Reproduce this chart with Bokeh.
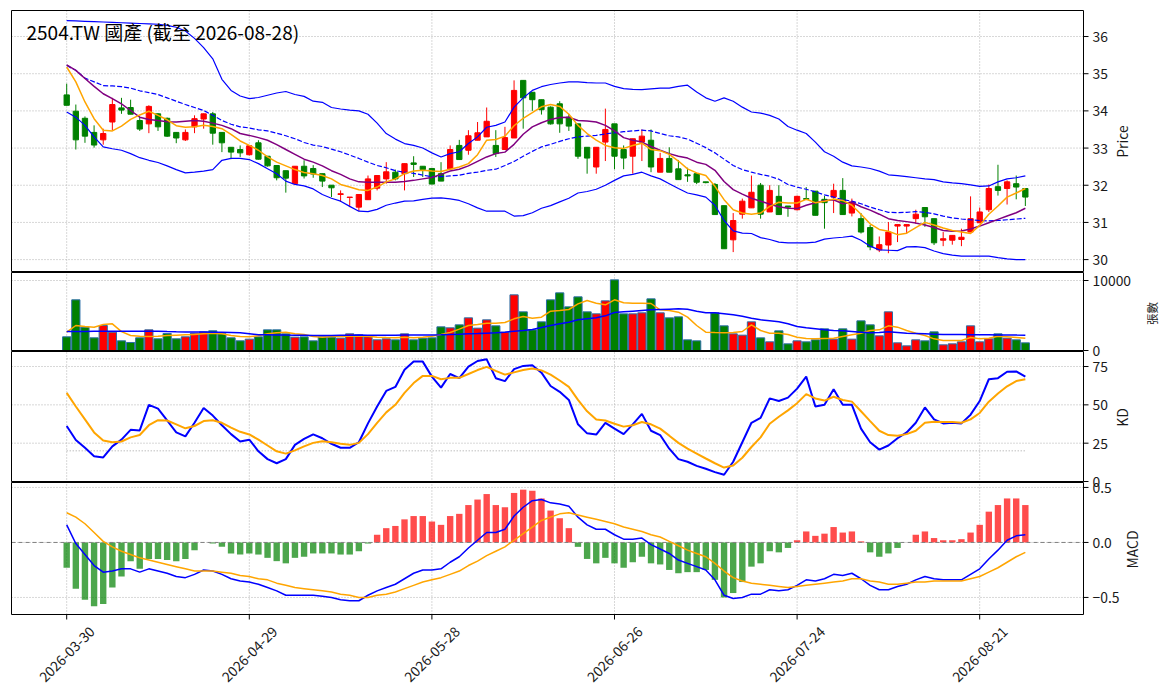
import math
import pandas as pd
from bokeh.plotting import figure
from bokeh.models import Range1d
from bokeh.core.properties import value
from bokeh.embed import file_html
from bokeh.resources import INLINE

FONT = "Noto Sans CJK TC"

# ---------------- data ----------------
holidays = ["2026-04-03", "2026-04-06", "2026-05-01", "2026-06-19"]
dates = [d.strftime("%Y-%m-%d") for d in pd.bdate_range("2026-03-30", "2026-08-28")
         if d.strftime("%Y-%m-%d") not in holidays]
tick_idx = [0, 20, 40, 60, 80, 100]

open_ = [34.43, 33.99, 33.80, 33.42, 33.22, 33.70, 34.08, 34.09, 33.74, 33.65,
         33.92, 33.80, 33.42, 33.22, 33.57, 33.78, 33.92, 33.42, 33.02, 32.96,
         32.82, 33.14, 32.78, 32.53, 32.39, 32.04, 32.51, 32.45, 32.31, 32.00,
         31.75, 31.67, 31.41, 31.61, 31.92, 32.17, 32.35, 32.31, 32.60, 32.51,
         32.45, 32.31, 32.44, 33.07, 32.94, 33.21, 33.30, 33.07, 32.96, 33.27,
         34.82, 34.50, 34.30, 34.10, 34.19, 33.83, 33.65, 33.02, 32.49, 33.16,
         33.65, 32.96, 32.78, 33.16, 33.21, 32.35, 32.72, 32.44, 32.28, 32.31,
         32.09, 32.02, 31.45, 30.53, 31.22, 31.39, 32.00, 31.28, 31.70, 31.44,
         31.34, 31.64, 31.84, 31.62, 31.68, 31.86, 31.25, 31.10, 30.86, 30.26,
         30.39, 30.90, 30.90, 31.10, 31.40, 31.10, 30.52, 30.52, 30.54, 30.74,
         30.99, 31.34, 31.96, 31.91, 32.04, 31.91]
close = [34.15, 33.22, 33.32, 33.08, 33.39, 34.17, 34.02, 33.91, 33.51, 34.12,
         33.57, 33.32, 33.27, 33.42, 33.79, 33.92, 33.40, 33.14, 32.89, 32.87,
         33.06, 32.70, 32.52, 32.20, 32.19, 32.51, 32.25, 32.30, 32.11, 31.93,
         31.77, 31.68, 31.75, 32.17, 32.26, 32.36, 32.17, 32.58, 32.56, 32.42,
         32.03, 32.11, 32.96, 32.69, 33.33, 33.41, 33.72, 32.85, 33.28, 34.55,
         34.35, 34.30, 34.03, 33.65, 33.65, 33.59, 32.78, 32.73, 33.02, 33.50,
         32.78, 32.73, 33.25, 33.32, 32.49, 32.72, 32.35, 32.15, 32.25, 32.08,
         32.07, 31.21, 30.29, 31.05, 31.57, 31.81, 31.22, 31.86, 31.21, 31.41,
         31.70, 31.62, 31.19, 31.53, 31.86, 31.21, 31.55, 30.74, 30.34, 30.40,
         30.74, 30.94, 30.94, 31.22, 31.15, 30.45, 30.56, 30.65, 30.60, 31.10,
         31.28, 31.91, 31.86, 32.09, 31.95, 31.68]
high = [34.73, 34.17, 33.85, 33.61, 33.52, 34.35, 34.35, 34.30, 33.83, 34.15,
        33.94, 33.82, 33.43, 33.50, 33.88, 33.93, 33.97, 33.43, 33.02, 33.07,
        33.07, 33.21, 32.78, 32.53, 32.39, 32.51, 32.67, 32.54, 32.31, 32.00,
        31.86, 31.68, 31.75, 32.26, 32.26, 32.62, 32.42, 32.58, 32.78, 32.51,
        32.45, 32.62, 33.07, 33.22, 33.48, 33.70, 34.09, 33.48, 33.57, 34.82,
        34.82, 34.50, 34.30, 34.12, 34.26, 33.92, 33.65, 33.02, 33.02, 34.06,
        33.65, 33.07, 33.25, 33.50, 33.50, 32.87, 33.02, 32.68, 32.47, 32.31,
        32.09, 32.06, 31.45, 31.25, 31.64, 32.26, 32.06, 32.00, 32.00, 31.44,
        31.72, 31.95, 31.84, 31.71, 32.04, 32.19, 31.64, 31.25, 30.93, 30.62,
        31.01, 30.94, 30.94, 31.34, 31.40, 31.10, 30.74, 30.65, 30.83, 31.70,
        31.40, 32.02, 32.55, 32.13, 32.26, 31.91]
low = [34.15, 32.96, 33.14, 33.01, 33.09, 33.48, 33.92, 33.91, 33.46, 33.40,
       33.46, 33.30, 33.13, 33.19, 33.40, 33.52, 33.09, 32.89, 32.70, 32.76,
       32.80, 32.69, 32.50, 32.13, 31.80, 32.04, 32.18, 32.20, 31.95, 31.68,
       31.55, 31.41, 31.30, 31.61, 31.86, 32.04, 32.13, 31.86, 32.22, 32.22,
       32.03, 32.11, 32.44, 32.69, 32.82, 33.21, 33.30, 32.76, 32.96, 33.27,
       33.52, 34.00, 33.90, 33.63, 33.41, 33.46, 32.71, 32.31, 32.31, 32.65,
       32.43, 32.43, 32.31, 32.65, 32.35, 32.35, 32.35, 32.15, 32.09, 32.03,
       32.05, 31.21, 30.29, 30.20, 31.10, 31.39, 31.10, 31.28, 31.21, 31.15,
       31.32, 31.60, 31.19, 30.83, 31.25, 31.21, 31.16, 30.70, 30.25, 30.20,
       30.17, 30.47, 30.70, 30.96, 30.88, 30.39, 30.36, 30.40, 30.36, 30.74,
       30.99, 31.28, 31.72, 31.48, 31.62, 31.44]
ma5 = [35.18, 34.78, 34.24, 33.79, 33.48, 33.46, 33.59, 33.77, 33.89, 33.99,
       33.88, 33.76, 33.60, 33.56, 33.57, 33.61, 33.58, 33.52, 33.37, 33.19,
       33.07, 32.94, 32.76, 32.62, 32.52, 32.42, 32.34, 32.31, 32.26, 32.17,
       32.02, 31.95, 31.88, 31.86, 31.95, 32.09, 32.17, 32.31, 32.38, 32.40,
       32.38, 32.37, 32.43, 32.49, 32.58, 32.82, 33.21, 33.23, 33.32, 33.60,
       33.80, 33.95, 34.11, 34.17, 34.12, 33.91, 33.61, 33.39, 33.21, 33.07,
       33.01, 32.99, 33.07, 33.13, 32.96, 32.93, 32.83, 32.65, 32.44, 32.33,
       32.26, 31.97, 31.61, 31.34, 31.25, 31.22, 31.25, 31.43, 31.54, 31.52,
       31.52, 31.62, 31.53, 31.57, 31.63, 31.59, 31.46, 31.22, 30.96, 30.81,
       30.76, 30.67, 30.71, 30.86, 31.00, 30.93, 30.85, 30.78, 30.74, 30.70,
       30.92, 31.22, 31.44, 31.68, 31.79, 31.91]
ma10 = [35.24, 35.09, 34.87, 34.66, 34.46, 34.33, 34.19, 34.01, 33.83, 33.77,
        33.74, 33.71, 33.70, 33.72, 33.74, 33.72, 33.67, 33.61, 33.52, 33.39,
        33.34, 33.28, 33.21, 33.09, 32.96, 32.83, 32.70, 32.62, 32.52, 32.39,
        32.29, 32.17, 32.09, 32.08, 32.08, 32.08, 32.08, 32.10, 32.13, 32.17,
        32.21, 32.29, 32.38, 32.43, 32.52, 32.64, 32.76, 32.85, 32.89, 33.10,
        33.37, 33.57, 33.68, 33.77, 33.82, 33.83, 33.74, 33.73, 33.70, 33.61,
        33.46, 33.28, 33.21, 33.16, 33.04, 32.94, 32.85, 32.78, 32.73, 32.62,
        32.56, 32.40, 32.10, 31.88, 31.76, 31.65, 31.57, 31.49, 31.42, 31.38,
        31.37, 31.46, 31.53, 31.58, 31.61, 31.50, 31.54, 31.42, 31.33, 31.22,
        31.10, 31.05, 31.02, 30.98, 30.93, 30.86, 30.78, 30.76, 30.77, 30.82,
        30.90, 30.99, 31.08, 31.17, 31.26, 31.38]
bb_upper = [36.43, 36.42, 36.41, 36.40, 36.39, 36.38, 36.37, 36.36, 36.35, 36.34,
            36.33, 36.30, 36.25, 36.15, 35.95, 35.70, 35.40, 34.85, 34.55, 34.40,
            34.33, 34.36, 34.42, 34.48, 34.52, 34.44, 34.39, 34.26, 34.23, 34.09,
            34.05, 34.02, 34.00, 33.91, 33.67, 33.39, 33.24, 33.12, 33.07, 33.00,
            32.87, 32.76, 32.85, 32.90, 33.12, 33.30, 33.56, 33.61, 33.70, 34.10,
            34.35, 34.55, 34.65, 34.71, 34.75, 34.78, 34.78, 34.76, 34.75, 34.75,
            34.66, 34.60, 34.58, 34.57, 34.59, 34.61, 34.61, 34.66, 34.69, 34.51,
            34.35, 34.26, 34.35, 34.26, 34.10, 33.97, 33.94, 33.88, 33.78, 33.58,
            33.48, 33.39, 33.16, 32.90, 32.78, 32.62, 32.52, 32.49, 32.45, 32.38,
            32.28, 32.26, 32.23, 32.20, 32.17, 32.15, 32.09, 32.06, 32.04, 32.01,
            31.97, 31.98, 32.09, 32.17, 32.20, 32.25]
bb_mid = [35.22, 35.09, 34.88, 34.78, 34.68, 34.67, 34.65, 34.61, 34.54, 34.49,
          34.44, 34.35, 34.26, 34.17, 34.09, 34.01, 33.88, 33.74, 33.64, 33.57,
          33.54, 33.49, 33.46, 33.40, 33.33, 33.25, 33.15, 33.08, 33.04, 32.97,
          32.90, 32.81, 32.72, 32.62, 32.53, 32.47, 32.39, 32.35, 32.32, 32.27,
          32.23, 32.23, 32.25, 32.27, 32.32, 32.35, 32.40, 32.43, 32.53, 32.64,
          32.78, 32.91, 33.03, 33.10, 33.18, 33.25, 33.30, 33.32, 33.34, 33.38,
          33.41, 33.44, 33.46, 33.48, 33.46, 33.39, 33.33, 33.30, 33.24, 33.13,
          33.01, 32.87, 32.70, 32.53, 32.42, 32.35, 32.29, 32.24, 32.16, 32.02,
          31.95, 31.89, 31.82, 31.74, 31.68, 31.61, 31.57, 31.50, 31.41, 31.34,
          31.27, 31.26, 31.27, 31.29, 31.27, 31.23, 31.17, 31.12, 31.09, 31.07,
          31.05, 31.04, 31.05, 31.07, 31.09, 31.11]
bb_lower = [33.97, 33.83, 33.61, 33.30, 33.03, 32.98, 32.94, 32.85, 32.74, 32.67,
            32.61, 32.52, 32.42, 32.33, 32.35, 32.38, 32.42, 32.67, 32.72, 32.72,
            32.69, 32.58, 32.44, 32.31, 32.11, 32.02, 31.98, 31.90, 31.75, 31.65,
            31.57, 31.43, 31.30, 31.29, 31.35, 31.46, 31.52, 31.57, 31.58, 31.62,
            31.65, 31.66, 31.63, 31.59, 31.50, 31.39, 31.30, 31.30, 31.30, 31.17,
            31.18, 31.26, 31.38, 31.45, 31.55, 31.65, 31.79, 31.83, 31.89, 32.00,
            32.13, 32.25, 32.29, 32.35, 32.25, 32.17, 32.04, 31.91, 31.79, 31.74,
            31.68, 31.46, 31.05, 30.77, 30.71, 30.70, 30.59, 30.54, 30.47, 30.45,
            30.45, 30.45, 30.47, 30.55, 30.58, 30.60, 30.63, 30.52, 30.36, 30.26,
            30.25, 30.24, 30.34, 30.35, 30.32, 30.23, 30.16, 30.12, 30.09, 30.09,
            30.09, 30.09, 30.05, 30.02, 30.00, 30.00]
volume = [1952, 7238, 3333, 1810, 3571, 2619, 1381, 1143, 1810, 2952,
          1667, 2429, 1667, 1952, 2476, 2667, 2810, 2381, 1810, 1381,
          1619, 1952, 2952, 2952, 2381, 1905, 1952, 1381, 1952, 1905,
          1762, 2381, 2238, 1952, 1524, 1667, 1524, 2381, 1524, 1762,
          1810, 3381, 3238, 3667, 4667, 3190, 4381, 3524, 2619, 7952,
          5524, 2952, 4095, 7238, 8238, 6238, 7667, 5524, 5238, 7095,
          10095, 5238, 5238, 5381, 7381, 5381, 4667, 4810, 1524, 1381,
          0, 5381, 3524, 2381, 2190, 4095, 1810, 1238, 2810, 952,
          1381, 1238, 1524, 3095, 1619, 3095, 1619, 4238, 3667, 2095,
          5524, 1095, 667, 1524, 1381, 2667, 810, 952, 1238, 3524,
          1238, 1667, 2381, 1762, 1524, 1095]
vol_ma5 = [2619, 3571, 3429, 3333, 3714, 3810, 2700, 2150, 2048, 2000,
           2048, 2143, 2190, 2238, 2286, 2381, 2476, 2381, 2143, 2000,
           1952, 2095, 2381, 2524, 2619, 2381, 2286, 2000, 1905, 2000,
           2000, 2048, 2048, 2048, 1905, 1857, 1810, 1905, 1810, 1905,
           2048, 2286, 2571, 3048, 3571, 3714, 3905, 3905, 4000, 4524,
           4857, 4619, 4762, 5619, 5714, 5857, 6667, 7143, 6762, 6524,
           7238, 6810, 6762, 6762, 6714, 5810, 5714, 5476, 4762, 3571,
           2619, 2571, 2524, 2571, 2714, 3667, 2857, 2476, 2476, 2286,
           1905, 1714, 1667, 1714, 1762, 2000, 2238, 2476, 2857, 2952,
           3524, 3333, 2857, 2476, 2143, 1667, 1429, 1429, 1429, 1857,
           1667, 1762, 2048, 1952, 1857, 1762]
vol_ma20 = [2714, 2714, 2730, 2740, 2750, 2760, 2760, 2760, 2760, 2760,
            2740, 2700, 2670, 2650, 2640, 2630, 2620, 2600, 2570, 2520,
            2400, 2250, 2240, 2220, 2200, 2190, 2180, 2160, 2150, 2150,
            2170, 2190, 2200, 2190, 2190, 2190, 2190, 2200, 2200, 2210,
            2230, 2250, 2290, 2330, 2380, 2420, 2470, 2520, 2620, 2760,
            2860, 3000, 3290, 3571, 3810, 4048, 4381, 4524, 4667, 4952,
            5429, 5524, 5619, 5714, 5810, 5857, 5905, 5952, 5905, 5619,
            5381, 5381, 5238, 5095, 4905, 4619, 4381, 4238, 4095, 3810,
            3429, 3238, 3095, 2952, 2857, 2810, 2714, 2619, 2524, 2571,
            2667, 2571, 2476, 2429, 2381, 2333, 2286, 2280, 2270, 2260,
            2250, 2240, 2230, 2220, 2200, 2190]
k_line = [36.2, 27.1, 22.0, 16.5, 15.7, 22.9, 27.3, 33.7, 33.3, 50.0,
          47.5, 39.8, 32.0, 29.4, 38.3, 47.9, 43.0, 36.7, 30.9, 26.1,
          27.3, 19.7, 14.6, 11.9, 14.6, 23.9, 27.8, 30.7, 28.2, 24.6,
          22.0, 22.0, 25.6, 37.9, 48.9, 59.1, 61.7, 72.9, 78.2, 78.2,
          68.4, 61.2, 70.1, 67.4, 75.0, 78.6, 79.7, 67.4, 65.5, 73.3,
          75.4, 75.8, 71.0, 62.3, 58.5, 53.2, 37.3, 31.4, 30.6, 38.3,
          34.5, 30.9, 37.3, 44.1, 33.1, 30.3, 21.4, 14.6, 12.9, 10.2,
          8.3, 6.1, 4.4, 12.9, 25.6, 38.3, 41.5, 54.2, 52.5, 54.7,
          60.6, 68.4, 48.9, 50.0, 60.2, 50.0, 50.0, 34.5, 25.6, 20.8,
          23.5, 28.2, 32.0, 38.3, 48.3, 40.5, 37.9, 38.3, 37.9, 43.6,
          52.5, 66.7, 67.4, 71.6, 71.8, 68.4]
d_line = [57.8, 48.9, 40.5, 32.0, 26.7, 25.6, 26.1, 28.8, 30.3, 36.7,
          40.0, 39.8, 37.3, 34.7, 36.2, 39.4, 40.0, 38.3, 35.2, 32.4,
          30.7, 27.3, 23.5, 19.7, 18.2, 20.3, 22.9, 25.2, 26.3, 25.6,
          24.6, 23.9, 25.2, 30.9, 38.3, 45.1, 50.0, 57.8, 64.2, 68.9,
          68.9, 66.7, 67.6, 67.6, 70.1, 72.7, 74.8, 72.2, 69.7, 71.2,
          72.7, 73.7, 72.5, 69.7, 65.9, 61.7, 53.2, 45.8, 40.5, 39.8,
          37.7, 35.8, 36.7, 38.8, 37.3, 34.5, 29.9, 25.2, 21.4, 18.2,
          15.0, 11.9, 9.1, 10.4, 15.5, 22.5, 28.8, 37.7, 42.2, 46.4,
          51.1, 57.0, 54.2, 52.8, 55.3, 53.2, 52.1, 45.8, 39.4, 33.1,
          30.3, 29.9, 30.9, 33.1, 38.3, 39.0, 38.8, 38.8, 38.3, 40.5,
          44.7, 52.1, 57.4, 62.1, 65.5, 66.7]
kd_levels = [20, 80]
macd_dif = [0.16, -0.01, -0.11, -0.21, -0.27, -0.26, -0.24, -0.24, -0.27, -0.24,
            -0.26, -0.28, -0.31, -0.32, -0.29, -0.25, -0.26, -0.29, -0.33, -0.35,
            -0.36, -0.38, -0.41, -0.44, -0.48, -0.48, -0.48, -0.48, -0.49, -0.50,
            -0.52, -0.53, -0.53, -0.48, -0.44, -0.41, -0.38, -0.33, -0.28, -0.25,
            -0.25, -0.24, -0.18, -0.13, -0.05, 0.02, 0.09, 0.09, 0.12, 0.24,
            0.32, 0.38, 0.39, 0.36, 0.35, 0.33, 0.23, 0.16, 0.12, 0.12,
            0.07, 0.03, 0.03, 0.04, -0.02, -0.06, -0.10, -0.16, -0.19, -0.22,
            -0.25, -0.34, -0.48, -0.51, -0.50, -0.47, -0.47, -0.43, -0.44, -0.43,
            -0.39, -0.34, -0.35, -0.33, -0.29, -0.30, -0.28, -0.33, -0.39, -0.43,
            -0.43, -0.40, -0.38, -0.34, -0.31, -0.33, -0.34, -0.34, -0.34, -0.29,
            -0.24, -0.15, -0.07, 0.02, 0.06, 0.07]
macd_signal = [0.27, 0.23, 0.17, 0.09, 0.01, -0.04, -0.08, -0.11, -0.14, -0.16,
               -0.18, -0.20, -0.22, -0.24, -0.26, -0.26, -0.26, -0.27, -0.28, -0.30,
               -0.31, -0.33, -0.34, -0.37, -0.39, -0.41, -0.42, -0.43, -0.44, -0.45,
               -0.47, -0.48, -0.50, -0.50, -0.48, -0.47, -0.45, -0.42, -0.39, -0.36,
               -0.34, -0.32, -0.29, -0.26, -0.21, -0.17, -0.12, -0.08, -0.04, 0.02,
               0.08, 0.14, 0.20, 0.23, 0.26, 0.27, 0.25, 0.23, 0.21, 0.19,
               0.17, 0.14, 0.12, 0.10, 0.07, 0.05, 0.01, -0.03, -0.07, -0.10,
               -0.13, -0.19, -0.26, -0.32, -0.35, -0.37, -0.38, -0.39, -0.40, -0.41,
               -0.40, -0.39, -0.38, -0.37, -0.36, -0.35, -0.33, -0.33, -0.35, -0.36,
               -0.38, -0.38, -0.37, -0.36, -0.36, -0.35, -0.35, -0.35, -0.35, -0.33,
               -0.31, -0.27, -0.23, -0.18, -0.13, -0.09]
macd_hist = [-0.23, -0.42, -0.52, -0.58, -0.56, -0.41, -0.31, -0.17, -0.24, -0.15,
             -0.15, -0.16, -0.17, -0.15, -0.07, 0.00, -0.01, -0.04, -0.10, -0.11,
             -0.10, -0.11, -0.14, -0.17, -0.19, -0.14, -0.13, -0.10, -0.10, -0.10,
             -0.11, -0.11, -0.08, -0.01, 0.07, 0.13, 0.15, 0.21, 0.24, 0.24,
             0.19, 0.16, 0.24, 0.26, 0.34, 0.39, 0.44, 0.34, 0.32, 0.45,
             0.48, 0.47, 0.40, 0.29, 0.22, 0.13, -0.04, -0.15, -0.19, -0.14,
             -0.19, -0.23, -0.18, -0.13, -0.19, -0.20, -0.25, -0.28, -0.27, -0.27,
             -0.25, -0.34, -0.50, -0.46, -0.36, -0.22, -0.19, -0.08, -0.09, -0.05,
             0.02, 0.10, 0.06, 0.08, 0.14, 0.09, 0.10, 0.01, -0.09, -0.13,
             -0.10, -0.05, 0.00, 0.07, 0.10, 0.04, 0.02, 0.02, 0.03, 0.09,
             0.16, 0.28, 0.34, 0.40, 0.40, 0.34]
price_ticks = [30, 31, 32, 33, 34, 35, 36]
vol_ticks = [0, 10000]
kd_ticks = [0, 25, 50, 75]
macd_ticks = [-0.5, 0.0, 0.5]
panel_titles = ["Price", "張數", "KD", "MACD"]
title_text = "2504.TW 國產 (截至 2026-08-28)"

# ---------------- geometry ----------------
W, H = 1161, 697                 # canvas
FL, FR = 11, 1083                # frame left / right (px)
X0, XP = 66.2, 9.13              # px of bar 0, px per bar
PRICE_TOP, PPU = 36.70, 37.17    # price at px 10, px per price unit

geo = {  # name: (lo, hi, top px, bottom px)
    "price": (29.68, 36.70, 10, 271),
    "vol": (0.0, 11143.0, 272, 350),
    "kd": (0.0, 84.8, 351, 481),
    "macd": (-0.655, 0.545, 482, 614),
}


def xi(px):           # screen px -> bar index units
    return (px - X0) / XP


def yp(px):           # screen px -> primary (price) units
    return PRICE_TOP - (px - 10) / PPU


def px_of(name, v):
    lo, hi, t, b = geo[name]
    return t + (hi - v) / (hi - lo) * (b - t)


extra = {}
for name in ("vol", "kd", "macd"):
    lo, hi, t, b = geo[name]
    s = (hi - lo) / (b - t)
    extra[name] = Range1d(lo - (H - b) * s, hi + t * s)

xs = list(range(len(dates)))
is_up = [c >= o for o, c in zip(open_, close)]
candle_col = ["#ff0000" if u else "#008000" for u in is_up]
body_top = [max(o, c) for o, c in zip(open_, close)]
body_bot = [min(o, c) for o, c in zip(open_, close)]
hist_col = ["#ff0000" if h >= 0 else "#008000" for h in macd_hist]

p = figure(frame_width=W, frame_height=H,
           x_range=Range1d(xi(0), xi(W)), y_range=Range1d(yp(H), yp(0)),
           x_axis_location=None, y_axis_location=None,
           toolbar_location=None, output_backend="svg",
           min_border=0, min_border_left=0, min_border_right=0,
           min_border_top=0, min_border_bottom=0)
p.extra_y_ranges = extra
p.outline_line_color = None
p.background_fill_color = "white"
p.border_fill_color = "white"
p.xgrid.visible = False
p.ygrid.visible = False

TXT = "#1a1a1a"
GRID = "#b0b0b0"
tick_sets = {
    "price": [(v, str(v)) for v in price_ticks],
    "vol": [(v, str(v)) for v in vol_ticks],
    "kd": [(v, str(v)) for v in kd_ticks],
    "macd": [(v, ("\u2212%.1f" % -v) if v < 0 else "%.1f" % v) for v in macd_ticks],
}

# ---------------- grid ----------------
gy = [yp(px_of(n, v)) for n, ts in tick_sets.items() for v, _ in ts]
p.segment(x0=[xi(FL)] * len(gy), y0=gy, x1=[xi(FR)] * len(gy), y1=gy,
          line_color=GRID, line_dash="1 2", line_width=1)
p.segment(x0=tick_idx, y0=[yp(10)] * 6, x1=tick_idx, y1=[yp(614)] * 6,
          line_color=GRID, line_dash="1 2", line_width=1)

# ---------------- price panel ----------------
p.segment(x0=xs, y0=low, x1=xs, y1=high, line_color=candle_col, line_width=1)
p.vbar(x=xs, top=body_top, bottom=body_bot, width=0.58,
       fill_color=candle_col, line_color=candle_col, line_width=1)
p.line(xs, bb_upper, line_color="#0000ff", line_width=1.2)
p.line(xs, bb_lower, line_color="#0000ff", line_width=1.2)
p.line(xs, bb_mid, line_color="#0000ff", line_width=1.2, line_dash="5 2")
p.line(xs, ma10, line_color="#800080", line_width=1.5)
p.line(xs, ma5, line_color="#ffa500", line_width=1.5)

# ---------------- volume panel ----------------
p.vbar(x=xs, top=volume, bottom=0, width=0.9, fill_color=candle_col,
       line_color="#2b6ea6", line_width=1, y_range_name="vol")
p.line(xs, vol_ma5, line_color="#ffa500", line_width=1.5, y_range_name="vol")
p.line(xs, vol_ma20, line_color="#0000ff", line_width=1.5, y_range_name="vol")

# ---------------- KD panel ----------------
for lv in kd_levels:
    p.line([xs[0], xs[-1]], [lv, lv], line_color="#a0a0a0", line_dash="1 2",
           line_width=1, y_range_name="kd")
p.line(xs, k_line, line_color="#0000ff", line_width=2, y_range_name="kd")
p.line(xs, d_line, line_color="#ffa500", line_width=2, y_range_name="kd")

# ---------------- MACD panel ----------------
p.vbar(x=xs, top=macd_hist, bottom=0, width=0.7, fill_color=hist_col,
       fill_alpha=0.7, line_color=None, y_range_name="macd")
p.segment(x0=[xi(FL)], y0=[0], x1=[xi(FR)], y1=[0], line_color="#808080",
          line_dash="4 3", line_width=1, y_range_name="macd")
p.line(xs, macd_dif, line_color="#0000ff", line_width=1.5, y_range_name="macd")
p.line(xs, macd_signal, line_color="#ffa500", line_width=1.5, y_range_name="macd")

# ---------------- frames ----------------
names = ["price", "vol", "kd", "macd"]
p.quad(left=[xi(FL)] * 4, right=[xi(FR)] * 4,
       top=[yp(geo[n][2]) for n in names],
       bottom=[yp(geo[n][3]) for n in names],
       fill_color=None, line_color="black", line_width=1)

# ---------------- right-hand ticks and labels ----------------
ty = [yp(px_of(n, v)) for n, ts in tick_sets.items() for v, _ in ts]
tl = [lab for n, ts in tick_sets.items() for _, lab in ts]
p.segment(x0=[xi(FR)] * len(ty), y0=ty, x1=[xi(FR + 5)] * len(ty), y1=ty,
          line_color="black", line_width=1)
p.text(x=[xi(FR + 9)] * len(ty), y=ty, text=tl, text_font=value(FONT),
       text_font_size=value("13.9px"), text_color=TXT,
       text_align="left", text_baseline="middle")

# panel titles (rotated)
title_pos = {"price": (1121, 141), "vol": (1151, 313), "kd": (1121, 417), "macd": (1131, 549)}
title_size = {"price": "13.9px", "vol": "11.5px", "kd": "13.9px", "macd": "13.9px"}
for n, txt in zip(names, panel_titles):
    sx, sy = title_pos[n]
    p.text(x=[xi(sx)], y=[yp(sy)], text=[txt], angle=math.pi / 2,
           text_font=value(FONT), text_font_size=value(title_size[n]),
           text_color=TXT, text_align="center", text_baseline="middle")

# ---------------- bottom ticks and date labels ----------------
p.segment(x0=tick_idx, y0=[yp(614)] * 6, x1=tick_idx, y1=[yp(619)] * 6,
          line_color="black", line_width=1)
p.text(x=tick_idx, y=[yp(653.5)] * 6, text=[dates[i] for i in tick_idx],
       angle=math.pi / 4, text_font=value(FONT), text_font_size=value("13.9px"),
       text_color=TXT, text_align="center", text_baseline="middle")

# ---------------- title ----------------
p.text(x=[xi(26)], y=[yp(31)], text=[title_text], text_font=value(FONT),
       text_font_size=value("19px"), text_color="#000000",
       text_align="left", text_baseline="middle")

open("out.html", "w").write(file_html(p, INLINE))
